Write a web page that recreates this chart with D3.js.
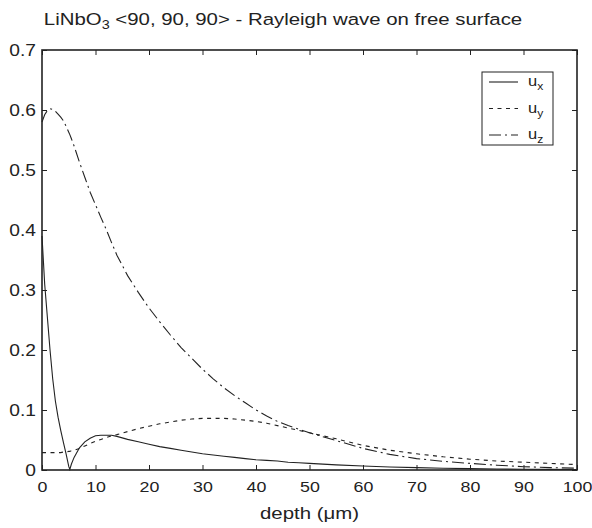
<!DOCTYPE html>
<html>
<head>
<meta charset="utf-8">
<script src="https://cdn.jsdelivr.net/npm/d3@7"></script>
<style>
  body { margin: 0; background: #fff; }
  svg text { font-family: "Liberation Sans", Arial, sans-serif; fill: #222; }
</style>
</head>
<body>
<script>
// depth in micrometres, shared by the three curves
var depth = [0, 0.5, 1, 1.5, 2, 2.5, 3, 3.5, 4, 4.5, 5, 5.2, 5.5, 6, 7, 8, 9, 10, 11, 12, 13, 14,
  16, 18, 20, 22, 24, 26, 28, 30, 32, 34, 36, 38, 40, 42, 44, 46, 48, 50,
  55, 60, 65, 70, 75, 80, 85, 90, 95, 100];

var ux = [0.39, 0.31, 0.255, 0.2, 0.152, 0.115, 0.088, 0.066, 0.046, 0.027, 0.006, 0.001, 0.01, 0.021, 0.037, 0.047, 0.053, 0.057, 0.058, 0.058, 0.058, 0.056,
  0.051, 0.047, 0.043, 0.039, 0.036, 0.033, 0.030, 0.027, 0.025, 0.023, 0.021, 0.019, 0.017, 0.016, 0.015, 0.013, 0.012, 0.011,
  0.0085, 0.0067, 0.005, 0.004, 0.003, 0.0023, 0.0017, 0.0013, 0.001, 0.0008];

var uy = [0.029, 0.029, 0.029, 0.029, 0.029, 0.029, 0.029, 0.029, 0.030, 0.030, 0.031, 0.031, 0.032, 0.033, 0.036, 0.040, 0.044, 0.048, 0.051, 0.054, 0.057, 0.059,
  0.064, 0.069, 0.073, 0.077, 0.080, 0.083, 0.085, 0.086, 0.086, 0.086, 0.085, 0.083, 0.081, 0.078, 0.074, 0.070, 0.066, 0.062,
  0.052, 0.041, 0.033, 0.027, 0.022, 0.018, 0.015, 0.013, 0.011, 0.009];

var uz = [0.58, 0.592, 0.599, 0.602, 0.601, 0.598, 0.593, 0.588, 0.582, 0.573, 0.563, 0.559, 0.552, 0.54, 0.513, 0.488, 0.463, 0.442, 0.421, 0.401, 0.379, 0.358,
  0.324, 0.296, 0.270, 0.247, 0.225, 0.204, 0.186, 0.168, 0.152, 0.137, 0.124, 0.112, 0.100, 0.090, 0.081, 0.074, 0.068, 0.062,
  0.049, 0.036, 0.026, 0.019, 0.0145, 0.011, 0.008, 0.0055, 0.004, 0.003];

var xTicks = [0, 10, 20, 30, 40, 50, 60, 70, 80, 90, 100];
var yTicks = [0, 0.1, 0.2, 0.3, 0.4, 0.5, 0.6, 0.7];

var seriesNames = ["x", "y", "z"];
var seriesDash = ["none", "4,4.5", "12,4,2,4"];

// the reference font is wider than Liberation Sans, so stretch text sideways
var SX = 1.2;
var TSX = 1.15; // tick labels

function draw() {
  var W = 592, H = 528;
  var left = 42, right = 577, top = 50, bottom = 470;

  var svg = d3.select("body").append("svg")
    .attr("width", W)
    .attr("height", H);

  var x = d3.scaleLinear().domain([0, 100]).range([left, right]);
  var y = d3.scaleLinear().domain([0, 0.7]).range([bottom, top]);

  // title with subscript
  var title = svg.append("g")
    .attr("transform", "translate(283,25) scale(" + SX + ",1)")
    .append("text")
    .attr("text-anchor", "middle")
    .style("font-size", "17px");
  title.append("tspan").text("LiNbO");
  title.append("tspan").attr("dy", 4).style("font-size", "12px").text("3");
  title.append("tspan").attr("dy", -4).text(" <90, 90, 90> - Rayleigh wave on free surface");

  // axes, ticks inward (matlab style), on all four sides
  var gx = svg.append("g")
    .attr("transform", "translate(0," + bottom + ")")
    .call(d3.axisBottom(x).tickValues(xTicks).tickSizeInner(-5).tickSizeOuter(0).tickPadding(11));
  gx.select(".domain").remove();
  gx.selectAll("text")
    .style("font-size", "15.5px")
    .attr("transform", "scale(" + TSX + ",1)");

  var gxt = svg.append("g")
    .attr("transform", "translate(0," + top + ")")
    .call(d3.axisTop(x).tickValues(xTicks).tickSizeInner(-5).tickSizeOuter(0).tickFormat(""));
  gxt.select(".domain").remove();

  var gy = svg.append("g")
    .attr("transform", "translate(" + left + ",0)")
    .call(d3.axisLeft(y).tickValues(yTicks).tickSizeInner(-5).tickSizeOuter(0).tickPadding(6)
      .tickFormat(function(d){ return d === 0 ? "0" : d3.format(".1f")(d); }));
  gy.select(".domain").remove();
  gy.selectAll("text")
    .style("font-size", "16px")
    .attr("x", -6 / SX)
    .attr("transform", "scale(" + SX + ",1)");

  var gyr = svg.append("g")
    .attr("transform", "translate(" + right + ",0)")
    .call(d3.axisRight(y).tickValues(yTicks).tickSizeInner(-5).tickSizeOuter(0).tickFormat(""));
  gyr.select(".domain").remove();

  svg.selectAll(".tick line").attr("stroke", "#222");
  svg.selectAll(".tick text").attr("fill", "#222");

  svg.append("rect")
    .attr("x", left).attr("y", top)
    .attr("width", right - left).attr("height", bottom - top)
    .attr("fill", "none").attr("stroke", "#222").attr("stroke-width", 1.6);

  // x label
  svg.append("g")
    .attr("transform", "translate(" + ((left + right) / 2) + ",519) scale(" + SX + ",1)")
    .append("text")
    .attr("text-anchor", "middle")
    .style("font-size", "17px")
    .text("depth (\u03bcm)");

  // curves
  var series = [ux, uy, uz];
  var line = d3.line()
    .x(function(d){ return x(d[0]); })
    .y(function(d){ return y(d[1]); });

  series.forEach(function(vals, k){
    svg.append("path")
      .datum(depth.map(function(dp, i){ return [dp, vals[i]]; }))
      .attr("d", line)
      .attr("fill", "none")
      .attr("stroke", "#222")
      .attr("stroke-width", 1.1)
      .attr("stroke-dasharray", seriesDash[k]);
  });

  // legend
  var lg = svg.append("g").attr("transform", "translate(482,72)");
  lg.append("rect")
    .attr("width", 71).attr("height", 73)
    .attr("fill", "#fff").attr("stroke", "#222").attr("stroke-width", 1);

  seriesNames.forEach(function(n, k){
    var yy = 10 + k * 26.5;
    lg.append("line")
      .attr("x1", 7).attr("x2", 36)
      .attr("y1", yy).attr("y2", yy)
      .attr("stroke", "#222")
      .attr("stroke-width", 1.1)
      .attr("stroke-dasharray", seriesDash[k]);
    var t = lg.append("g")
      .attr("transform", "translate(46," + (yy + 4) + ") scale(1.1,1)")
      .append("text")
      .style("font-size", "15px");
    t.append("tspan").text("u");
    t.append("tspan").attr("dy", 4).style("font-size", "11px").text(n);
  });
}

window.onload = draw;
</script>
</body>
</html>
